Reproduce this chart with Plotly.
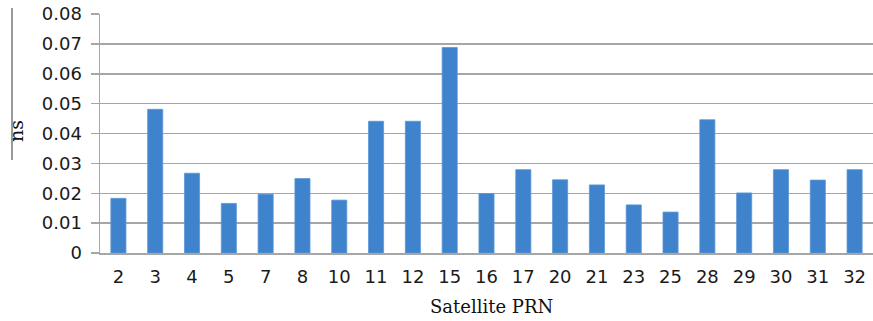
import plotly.graph_objects as go

prn = ["2", "3", "4", "5", "7", "8", "10", "11", "12", "15", "16", "17",
       "20", "21", "23", "25", "28", "29", "30", "31", "32"]
values_ns = [0.0183, 0.0481, 0.0267, 0.0166, 0.0197, 0.0249, 0.0177, 0.0441,
             0.0441, 0.0688, 0.0199, 0.0279, 0.0245, 0.0228, 0.0161, 0.0137,
             0.0446, 0.0201, 0.0279, 0.0244, 0.0279]
y_ticks = [0, 0.01, 0.02, 0.03, 0.04, 0.05, 0.06, 0.07, 0.08]
y_tick_labels = ["0", "0.01", "0.02", "0.03", "0.04", "0.05", "0.06", "0.07", "0.08"]

W, H = 873, 321
ML, MR, MT, MB = 100, 0, 14, 68

fig = go.Figure(go.Bar(
    x=prn, y=values_ns,
    marker=dict(color="#3F83CC", line=dict(color="#5A97D6", width=0.8)),
    width=0.41,
))

fig.update_layout(
    width=W, height=H,
    margin=dict(l=ML, r=MR, t=MT, b=MB),
    plot_bgcolor="white", paper_bgcolor="white",
    showlegend=False,
    font=dict(family="DejaVu Sans", color="#111111"),
)
fig.update_yaxes(
    range=[0, 0.08], tickvals=y_ticks, ticktext=y_tick_labels,
    showgrid=True, gridcolor="#A6A6A6", gridwidth=1.5,
    showline=True, linecolor="#A6A6A6", linewidth=1.5,
    ticks="outside", ticklen=8, tickcolor="#A6A6A6", tickwidth=1.5,
    tickfont=dict(size=18, family="DejaVu Sans", color="#1a1a1a"),
    zeroline=False, ticklabelstandoff=5,
)
fig.update_xaxes(
    type="category", showgrid=False,
    showline=True, linecolor="#A6A6A6", linewidth=1.5,
    ticks="", tickfont=dict(size=18, family="DejaVu Sans", color="#1a1a1a"),
    ticklabelstandoff=7,
)

plot_w = W - ML - MR
plot_h = H - MT - MB
def px_x(x):
    return (x - ML) / plot_w
def px_y(y):
    return (H - MB - y) / plot_h

fig.add_annotation(
    text="Satellite PRN", xref="paper", yref="paper",
    x=px_x(491), y=px_y(306), showarrow=False,
    font=dict(family="DejaVu Serif", size=18, color="#111111"),
    xanchor="center", yanchor="middle",
)
fig.add_annotation(
    text="ns", xref="paper", yref="paper",
    x=px_x(16), y=px_y(131), showarrow=False, textangle=-90,
    font=dict(family="DejaVu Serif", size=19, color="#111111"),
    xanchor="center", yanchor="middle",
)
fig.add_shape(
    type="line", xref="paper", yref="paper",
    x0=px_x(12), x1=px_x(12), y0=px_y(8), y1=px_y(160),
    line=dict(color="#555555", width=1.2),
)

fig.write_html(
    "out.html",
    config={"displayModeBar": False, "staticPlot": True},
    post_script="document.body.style.margin='0px';document.body.style.overflow='hidden';",
)
